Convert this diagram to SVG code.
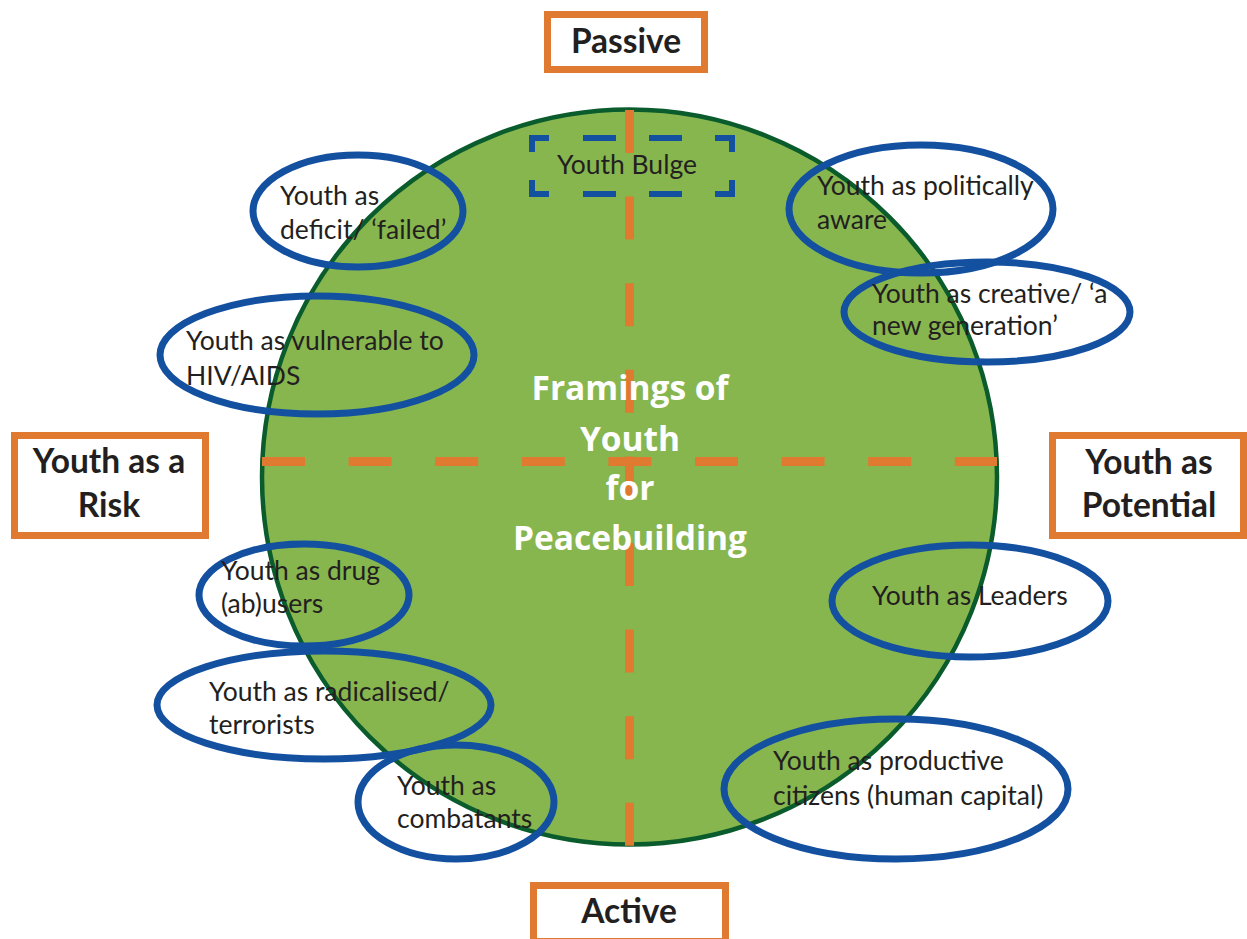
<svg xmlns="http://www.w3.org/2000/svg" width="1247" height="939" viewBox="0 0 1247 939">
<style>
.box{fill:#ffffff;stroke:#df7a30;stroke-width:7}
.boxt{font-family:Lato,"Open Sans",sans-serif;font-weight:bold;font-size:33.5px;fill:#231f20;text-anchor:middle}
.t{font-family:Lato,"Open Sans",sans-serif;font-size:26.5px;fill:#231f20}
.ell{fill:none;stroke:#1450a0;stroke-width:7}
.title{font-family:"Open Sans",sans-serif;font-weight:bold;font-size:33.5px;fill:#ffffff;text-anchor:middle}
.axis{stroke:#df7a30;stroke-width:9;stroke-dasharray:43 43.6}
</style>
<rect width="1247" height="939" fill="#ffffff"/>
<g id="circle">
<circle cx="629.5" cy="477" r="367.5" fill="#87b64f" stroke="#0a5c2c" stroke-width="4.5"/>
</g>
<g id="connectors">
<line class="axis" x1="262" y1="461.5" x2="997" y2="461.5"/>
<line class="axis" x1="629.5" y1="110" x2="629.5" y2="846"/>
</g>
<g id="youth-bulge">
<path d="M532 152V138H549M583 138H616M649 138H682M715 138H732V152M532 180V194H549M583 194H616M649 194H682M715 194H732V180" fill="none" stroke="#1450a0" stroke-width="6"/>
<text class="t" x="557" y="174">Youth Bulge</text>
</g>
<g id="title">
<text class="title" x="630" y="400">Framings of</text>
<text class="title" x="630" y="451">Youth</text>
<text class="title" x="630" y="500">for</text>
<text class="title" x="630" y="550">Peacebuilding</text>
</g>
<g id="passive">
<rect class="box" x="547.5" y="14.5" width="157" height="55"/>
<text class="boxt" x="626" y="53">Passive</text>
</g>
<g id="risk">
<rect class="box" x="14.5" y="435.5" width="191" height="100"/>
<text class="boxt" x="109" y="473">Youth as a</text>
<text class="boxt" x="109" y="517">Risk</text>
</g>
<g id="potential">
<rect class="box" x="1052.5" y="435.5" width="191" height="100"/>
<text class="boxt" x="1149" y="474">Youth as</text>
<text class="boxt" x="1149" y="517">Potential</text>
</g>
<g id="active">
<rect class="box" x="533.5" y="885.5" width="192" height="56"/>
<text class="boxt" x="629" y="923">Active</text>
</g>
<g id="deficit">
<ellipse class="ell" cx="358" cy="211" rx="105" ry="56"/>
<text class="t" x="280" y="205">Youth as</text>
<text class="t" x="280" y="239">deficit/ ‘failed’</text>
</g>
<g id="political">
<ellipse class="ell" cx="921" cy="209" rx="132" ry="64"/>
<text class="t" x="817" y="195">Youth as politically</text>
<text class="t" x="817" y="229">aware</text>
</g>
<g id="creative">
<ellipse class="ell" cx="987" cy="312" rx="143" ry="50"/>
<text class="t" x="872" y="303">Youth as creative/ ‘a</text>
<text class="t" x="872" y="335">new generation’</text>
</g>
<g id="vulnerable">
<ellipse class="ell" cx="317" cy="355" rx="157" ry="59"/>
<text class="t" x="186" y="350">Youth as vulnerable to</text>
<text class="t" x="186" y="385">HIV/AIDS</text>
</g>
<g id="drug">
<ellipse class="ell" cx="304" cy="595" rx="105" ry="51"/>
<text class="t" x="221" y="580">Youth as drug</text>
<text class="t" x="221" y="613">(ab)users</text>
</g>
<g id="radical">
<ellipse class="ell" cx="324" cy="705" rx="167" ry="54"/>
<text class="t" x="209" y="701">Youth as radicalised/</text>
<text class="t" x="209" y="734">terrorists</text>
</g>
<g id="combatants">
<ellipse class="ell" cx="456" cy="802" rx="98" ry="57"/>
<text class="t" x="397" y="795">Youth as</text>
<text class="t" x="397" y="828">combatants</text>
</g>
<g id="leaders">
<ellipse class="ell" cx="970" cy="601" rx="138" ry="56"/>
<text class="t" x="872" y="605">Youth as Leaders</text>
</g>
<g id="productive">
<ellipse class="ell" cx="896" cy="789" rx="172" ry="70"/>
<text class="t" x="773" y="770">Youth as productive</text>
<text class="t" x="773" y="805">citizens (human capital)</text>
</g>
</svg>
